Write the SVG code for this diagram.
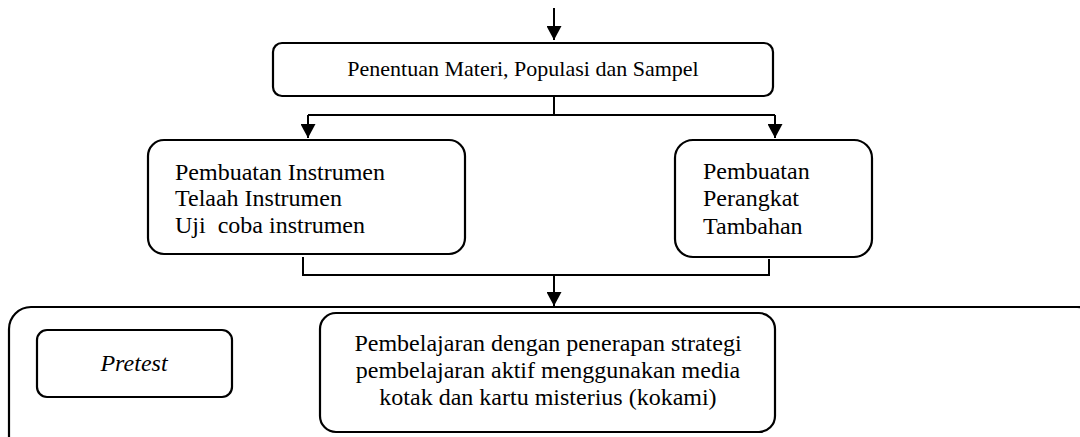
<svg xmlns="http://www.w3.org/2000/svg" width="1080" height="437" viewBox="0 0 1080 437">
<style>
.box{fill:#fff;stroke:#000;stroke-width:2.2}
.t{font-family:"Liberation Serif","Times New Roman",serif;font-size:24px;fill:#000}
.c{fill:none;stroke:#000;stroke-width:2}
</style>
<defs>
<marker id="ah" markerUnits="userSpaceOnUse" markerWidth="14" markerHeight="15" refX="14" refY="7.5" orient="auto">
<path d="M0,0 L14,7.5 L0,15 Z" fill="#000"/>
</marker>
</defs>
<rect width="1080" height="437" fill="#fff"/>
<g id="connectors">
<path class="c" d="M554,8 V40" marker-end="url(#ah)"/>
<path class="c" d="M554,96 V115 M308,115 H775"/>
<path class="c" d="M308,115 V138" marker-end="url(#ah)"/>
<path class="c" d="M775,115 V138" marker-end="url(#ah)"/>
<path class="c" d="M303,257 V275 H769 V259"/>
<path class="c" d="M554,275 V306" marker-end="url(#ah)"/>
</g>
<g id="node-outer">
<rect class="box" x="9" y="307" width="1090" height="160" rx="22"/>
</g>
<g id="node-penentuan">
<rect class="box" x="273" y="43" width="500" height="53" rx="9"/>
<text class="t" x="523" y="76" text-anchor="middle" style="font-size:22px">Penentuan Materi, Populasi dan Sampel</text>
</g>
<g id="node-instrumen">
<rect class="box" x="148" y="140" width="317" height="114" rx="16"/>
<text class="t" x="175" y="180">Pembuatan Instrumen</text>
<text class="t" x="175" y="206">Telaah Instrumen</text>
<text class="t" x="175" y="233" xml:space="preserve">Uji  coba instrumen</text>
</g>
<g id="node-perangkat">
<rect class="box" x="675" y="140" width="197" height="117" rx="18"/>
<text class="t" x="703" y="179">Pembuatan</text>
<text class="t" x="703" y="206">Perangkat</text>
<text class="t" x="703" y="234">Tambahan</text>
</g>
<g id="node-pretest">
<rect class="box" x="37" y="330" width="195" height="67" rx="10"/>
<text class="t" x="134" y="371" text-anchor="middle" font-style="italic">Pretest</text>
</g>
<g id="node-pembelajaran">
<rect class="box" x="320" y="313" width="455" height="119" rx="16"/>
<text class="t" x="548" y="351" text-anchor="middle">Pembelajaran dengan penerapan strategi</text>
<text class="t" x="548" y="378" text-anchor="middle">pembelajaran aktif menggunakan media</text>
<text class="t" x="548" y="405" text-anchor="middle">kotak dan kartu misterius (kokami)</text>
</g>
</svg>
